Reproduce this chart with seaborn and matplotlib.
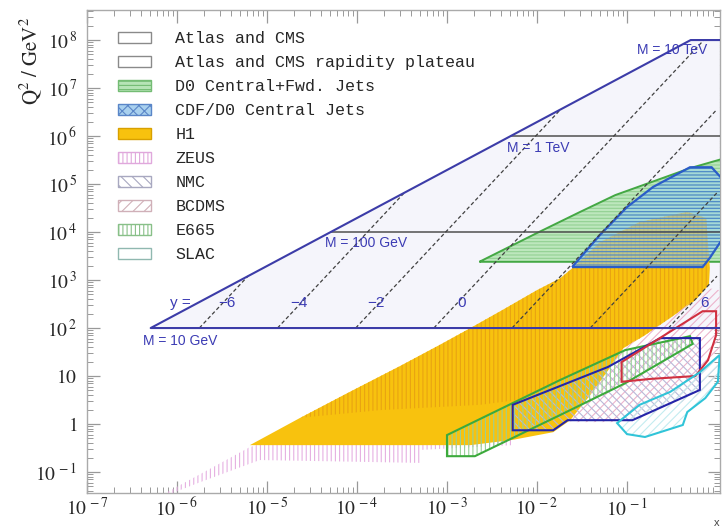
import numpy as np
import pandas as pd
import matplotlib
matplotlib.use("Agg")
import matplotlib.pyplot as plt
from matplotlib.patches import Patch
from matplotlib.ticker import LogLocator, NullFormatter
import seaborn as sns

# LHC kinematics
sqrt_s = 14000.0                       # GeV
masses = [10, 100, 1000, 10000]        # GeV, Q = M
rapidities = [-6, -4, -2, 0, 2, 4, 6]

h1_lx = [-5.19, -4.63, -4.08, -3.52, -3.08, -2.74, -2.38, -2.00, -1.74, -1.58, -1.30, -0.86, -0.33,
         -0.12, -0.08, -0.09, -0.24, -0.52, -0.80, -1.04, -1.19, -1.41, -1.63, -1.82, -2.27, -2.74]
h1_lq = [-0.44, 0.13, 0.67, 1.21, 1.65, 2.00, 2.38, 2.79, 3.04, 3.29, 3.79, 4.21, 4.42,
         4.29, 3.25, 2.90, 2.58, 2.21, 1.85, 1.58, 1.17, 0.60, 0.08, -0.17, -0.33, -0.44]

zeus_lx = [-4.63, -4.08, -3.52, -3.08, -2.74, -2.38, -2.00, -1.74, -1.58, -1.30, -0.86, -0.33,
           -0.12, -0.08, -0.09, -0.24, -0.52, -0.80, -1.04, -1.19, -1.36, -2.63, -3.74]
zeus_lq = [0.13, 0.67, 1.21, 1.65, 2.00, 2.38, 2.79, 3.04, 3.29, 3.79, 4.21, 4.42,
           4.29, 3.25, 2.90, 2.58, 2.21, 1.85, 1.58, 1.17, 0.71, 0.40, 0.29]
zeus_low_lx = [-6.13, -5.19, -4.63, -2.27, -2.27, -3.30, -3.30, -5.08, -5.74, -6.08]
zeus_low_lq = [-1.44, -0.48, -0.17, -0.17, -0.44, -0.54, -0.81, -0.75, -1.21, -1.46]

d0_lx = [-2.64, -2.00, -1.52, -1.13, -0.30, 0.09, 0.09]
d0_lq = [3.38, 3.98, 4.42, 4.77, 5.33, 5.54, 3.38]

cdf_lx = [-1.61, -1.30, -1.00, -0.71, -0.30, -0.06, 0.09, 0.09, -0.08, -0.16]
cdf_lq = [3.27, 3.94, 4.52, 4.94, 5.35, 5.35, 5.04, 3.94, 3.46, 3.27]

e665_lx = [-3.00, -1.74, -1.02, -0.30, -0.27, -1.02, -1.74, -2.69, -3.00]
e665_lq = [-0.23, 0.92, 1.54, 1.83, 1.67, 0.85, 0.19, -0.67, -0.67]

nmc_lx = [-2.27, -1.21, -0.63, -0.19, -0.19, -0.94, -1.66, -1.82, -2.27]
nmc_lq = [0.40, 1.19, 1.79, 1.79, 0.71, 0.08, 0.08, -0.13, -0.13]

bcdms_area_lx = [-1.47, -1.04, -0.52, -0.09, 0.03, 0.03, -0.19, -0.94, -1.63]
bcdms_area_lq = [0.50, 1.58, 2.21, 2.83, 2.79, 0.71, 0.60, 0.04, 0.04]
bcdms_lx = [-1.06, -1.06, -0.74, -0.24, -0.10, -0.01, -0.01, -0.16]
bcdms_lq = [1.29, 0.88, 0.94, 1.00, 1.33, 1.85, 2.35, 2.35]

slac_lx = [-1.11, -1.00, -0.80, -0.38, -0.33, -0.13, 0.01, 0.03, -0.19, -0.52, -0.86]
slac_lq = [0.02, -0.21, -0.27, -0.02, 0.25, 0.54, 0.88, 1.44, 1.08, 0.67, 0.40]

legend_labels = ["Atlas and CMS", "Atlas and CMS rapidity plateau", "D0 Central+Fwd. Jets",
                 "CDF/D0 Central Jets", "H1", "ZEUS", "NMC", "BCDMS", "E665", "SLAC"]

sns.set_theme(style="ticks")
plt.rcParams["font.family"] = ["Liberation Sans", "DejaVu Sans"]
plt.rcParams["mathtext.fontset"] = "stix"
plt.rcParams["hatch.linewidth"] = 0.8

fig = plt.figure(figsize=(7.23, 5.29), dpi=100)
ax = fig.add_axes([0.1203, 0.068, 0.8755, 0.913])
ax.set_xscale("log")
ax.set_yscale("log")
x_right = 10 ** 0.033

def poly(lx, lq):
    return 10.0 ** np.array(lx), 10.0 ** np.array(lq)

# LHC reach
s = sqrt_s ** 2
m_lo, m_hi = masses[0] ** 2, masses[-1] ** 2
lhc_x = [x_right, m_lo / s, m_hi / s, x_right]
lhc_q = [m_lo, m_lo, m_hi, m_hi]
ax.fill(lhc_x, lhc_q, facecolor="#f5f5fb", edgecolor="none", zorder=1)

# mass lines inside the LHC region
ml = []
for m in masses[1:-1]:
    ml += [{"x": m ** 2 / s, "q2": m ** 2, "m": m}, {"x": x_right, "q2": m ** 2, "m": m}]
sns.lineplot(data=pd.DataFrame(ml), x="x", y="q2", units="m", estimator=None, sort=False,
             color="#505050", lw=1.1, ax=ax, zorder=9, legend=False)

# rapidity lines
rl = []
for yr in rapidities:
    x0 = masses[0] / sqrt_s * np.exp(yr)
    x1 = min(np.exp(2 * yr), np.sqrt(m_hi / s) * np.exp(yr), 1.0)
    for xx in (x0, x1):
        rl.append({"x": xx, "q2": s * xx ** 2 * np.exp(-2 * yr), "y": yr})
sns.lineplot(data=pd.DataFrame(rl), x="x", y="q2", units="y", estimator=None, sort=False,
             color="#404040", lw=0.9, linestyle=(0, (3, 2)), ax=ax, zorder=9, legend=False)

ax.plot(lhc_x, lhc_q, color="#3c3ca8", lw=1.5, zorder=10)

# Tevatron
x, q = poly(d0_lx, d0_lq)
ax.fill(x, q, facecolor="#bde7bd", edgecolor="#92d092", hatch="-----", lw=0, zorder=3)
ax.fill(x, q, fill=False, edgecolor="#44a844", lw=1.4, zorder=3)

# HERA
x, q = poly(zeus_low_lx, zeus_low_lq)
ax.fill(x, q, facecolor="none", edgecolor="#e6b0e2", hatch="||||", lw=0, zorder=3)
x, q = poly(h1_lx, h1_lq)
ax.fill(x, q, facecolor="#f8c20e", edgecolor="none", zorder=4)
x, q = poly(zeus_lx, zeus_lq)
ax.fill(x, q, facecolor="none", edgecolor="#e9a412", hatch="||||", lw=0, zorder=5)

x, q = poly(cdf_lx, cdf_lq)
ax.fill(x, q, facecolor="#92ccee", edgecolor="none", alpha=0.55, zorder=6)
ax.fill(x, q, facecolor="none", edgecolor="#4a86c8", hatch="-----", lw=0, zorder=6)
ax.fill(x, q, fill=False, edgecolor="#2a5cc8", lw=1.6, zorder=6)

# fixed target: hatching first, outlines on top
x, q = poly(bcdms_area_lx, bcdms_area_lq)
ax.fill(x, q, facecolor="none", edgecolor="#ecb4cc", hatch="////", lw=0, zorder=7)
x, q = poly(nmc_lx, nmc_lq)
ax.fill(x, q, facecolor="none", edgecolor="#b8b8d8", hatch="\\\\\\\\", lw=0, zorder=7)
x, q = poly(e665_lx, e665_lq)
ax.fill(x, q, facecolor="none", edgecolor="#98d098", hatch="||||", lw=0, zorder=7)
x, q = poly(slac_lx, slac_lq)
ax.fill(x, q, facecolor="none", edgecolor="#c4ecf0", hatch="////", lw=0, zorder=7)

for lx, lq, col in [(e665_lx, e665_lq, "#3caa3c"), (nmc_lx, nmc_lq, "#2424a8"),
                    (bcdms_lx, bcdms_lq, "#d03040"), (slac_lx, slac_lq, "#30c4d8")]:
    x, q = poly(lx, lq)
    ax.fill(x, q, fill=False, edgecolor=col, lw=1.5, zorder=8)

# annotations
tc = "#3c3cb4"
ax.text(10 ** -0.889, 10 ** 7.79, "M = 10 TeV", color=tc, fontsize=10, va="center", zorder=11)
ax.text(10 ** -2.333, 10 ** 5.75, "M = 1 TeV", color=tc, fontsize=10, va="center", zorder=11)
ax.text(10 ** -4.356, 10 ** 3.77, "M = 100 GeV", color=tc, fontsize=10, va="center", zorder=11)
ax.text(10 ** -6.378, 10 ** 1.73, "M = 10 GeV", color=tc, fontsize=10, va="center", zorder=11)
ax.text(10 ** -6.078, 10 ** 2.52, "y =", color=tc, fontsize=11, va="center", zorder=11)
for lab, lx in [("\u22126", -5.444), ("\u22124", -4.644), ("\u22122", -3.789), ("0", -2.833), ("6", -0.144)]:
    ax.text(10 ** lx, 10 ** 2.53, lab, color=tc, fontsize=11, va="center", ha="center", zorder=11)

ax.set_xlim(1e-7, x_right)
ax.set_ylim(10 ** -1.4375, 10 ** 8.625)

xt = list(range(-7, 0))
ax.set_xticks([10.0 ** k for k in xt])
ax.set_xticklabels([r"$10^{\,%d}$" % k for k in xt])
yt = list(range(-1, 9))
ylabels = {0: "1", 1: "10"}
ax.set_yticks([10.0 ** k for k in yt])
ax.set_yticklabels([r"$%s$" % ylabels[k] if k in ylabels else r"$10^{\,%d}$" % k for k in yt])
for axis in (ax.xaxis, ax.yaxis):
    axis.set_minor_locator(LogLocator(base=10, subs=np.arange(2, 10), numticks=30))
    axis.set_minor_formatter(NullFormatter())
ax.tick_params(which="both", direction="in", top=True, right=True, color="#999999", labelsize=14)
ax.tick_params(which="major", length=9, width=0.9)
ax.tick_params(which="minor", length=4, width=0.7)
ax.tick_params(axis="x", pad=3)
ax.tick_params(axis="y", pad=7)
for sp in ax.spines.values():
    sp.set_color("#aaaaaa")
    sp.set_linewidth(1.0)

ax.set_ylabel(r"$\mathrm{Q^2\ /\ GeV^2}$", fontsize=15)
ax.yaxis.set_label_coords(-0.068, 0.895)
ax.set_xlabel("x", fontsize=8, color="#444444", ha="right")
ax.xaxis.set_label_coords(1.0, -0.052)

handles = [
    Patch(facecolor="white", edgecolor="#8a8a8a"),
    Patch(facecolor="white", edgecolor="#8a8a8a"),
    Patch(facecolor="#b6e4b6", edgecolor="#74bc74", hatch="----"),
    Patch(facecolor="#a8d0ee", edgecolor="#5a86c8", hatch="xxx"),
    Patch(facecolor="#f8c20e", edgecolor="#d8a000"),
    Patch(facecolor="white", edgecolor="#e0a8dc", hatch="||||"),
    Patch(facecolor="white", edgecolor="#a8a8c0", hatch="\\\\\\"),
    Patch(facecolor="white", edgecolor="#d0b0b8", hatch="///"),
    Patch(facecolor="white", edgecolor="#88c088", hatch="||||"),
    Patch(facecolor="white", edgecolor="#90b8b0"),
]
leg = ax.legend(handles, legend_labels, loc="upper left", bbox_to_anchor=(0.049, 0.956),
                frameon=False, borderpad=0, borderaxespad=0, handlelength=2.0, handleheight=0.72,
                handletextpad=1.45, labelspacing=0.54,
                prop={"family": "Liberation Mono", "size": 12})
leg.set_zorder(12)

fig.savefig("out.png", dpi=100)
